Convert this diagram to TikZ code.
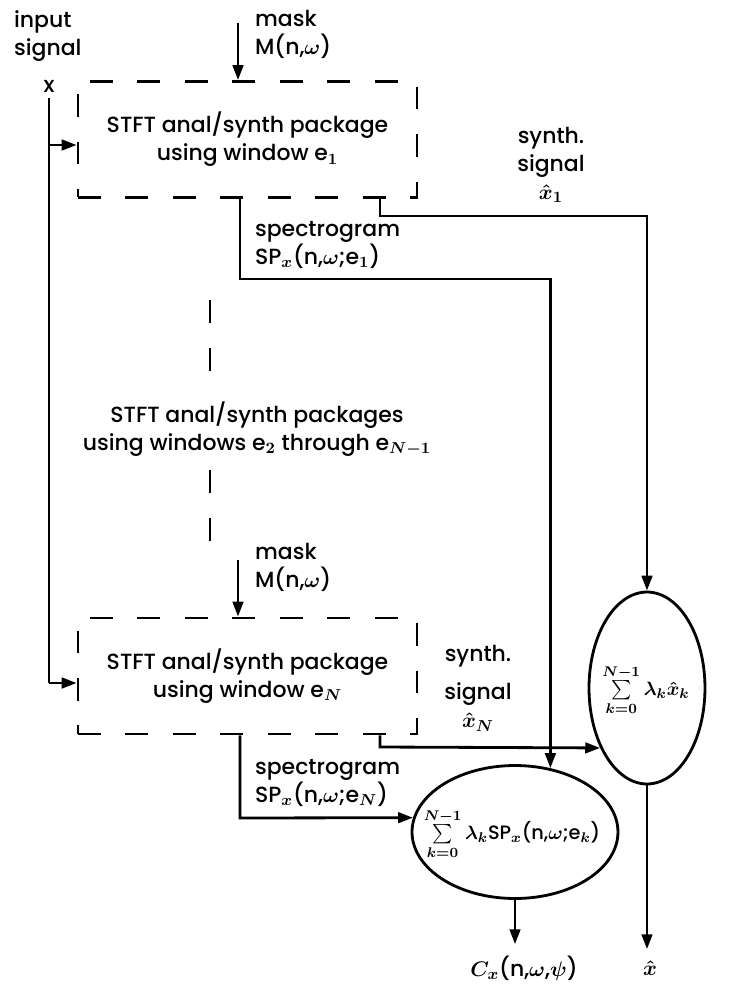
\documentclass[tikz,border=0pt]{standalone}
\usepackage{amsmath}
\usepackage{amssymb}
\usepackage{fontspec}
\setmainfont{Poppins}[UprightFont=* Medium]
\usetikzlibrary{arrows.meta,shapes.geometric}

\tikzset{
  wire/.style={line width=1.6pt},
  conn/.style={wire, -{Triangle[length=8.5pt,width=6pt]}},
  pkg/.style={draw, line width=1.6pt, dash pattern=on 13pt off 14pt,
    minimum width=6.78cm, minimum height=2.32cm, align=center, inner sep=0pt},
  middash/.style={wire, dash pattern=on 13pt off 14.5pt},
  sumnode/.style={draw, ellipse, line width=1.6pt, inner sep=0pt},
  sumtxt/.style={font=\fontsize{11}{13}\selectfont\boldmath},
  lbl/.style={align=left, inner sep=1pt}
}

\begin{document}
\begin{tikzpicture}[x=0.02cm, y=-0.02cm, font=\fontsize{12.5}{16}\selectfont\boldmath]
\useasboundingbox (0,0) rectangle (734,985);

% input signal
\node[lbl, anchor=west] (inp) at (12,36) {input\\signal};
\node (xin) at (49,86) {x};

% first package
\node[pkg] (box1) at (247.5,139.5) {STFT anal/synth package\\using window e$_1$};
\node[lbl, anchor=west] (mask1) at (253,34) {mask\\M(n,$\omega$)};
\coordinate (m1) at (238,23);
\draw[conn] (m1) -- (m1 |- box1.north);

% packages 2 .. N-1
\node[align=center] (midtxt) at (257,429) {STFT anal/synth packages\\using windows e$_2$ through e$_{N-1}$};
\draw[middash] (210,300) -- (210,372);
\draw[middash] (210,470) -- (210,545);

% last package
\node[pkg] (box2) at (247.5,676) {STFT anal/synth package\\using window e$_N$};
\node[lbl, anchor=west] (mask2) at (253,567) {mask\\M(n,$\omega$)};
\coordinate (m2) at (238,560);
\draw[conn] (m2) -- (m2 |- box2.north);

% input lines
\coordinate (br1) at (49,145);
\coordinate (brN) at (49,683);
\draw[wire] (xin.south) -- (brN);
\draw[conn] (br1) -- (br1 -| box1.west);
\draw[conn] (brN) -- (brN -| box2.west);

% weighted sums
\node[sumnode, minimum width=2.32cm, minimum height=3.84cm] (sumx) at (647,688) {};
\node[sumtxt] (sumxtxt) at (646,690) {$\textstyle\sum\limits_{k=0}^{N-1}\lambda_k\hat{x}_k$};
\node[sumnode, minimum width=4.12cm, minimum height=2.66cm] (sumsp) at (515,832) {};
\node[sumtxt] (sumsptxt) at (512,834) {$\textstyle\sum\limits_{k=0}^{N-1}\lambda_k$SP$_x$(n,$\omega$;e$_k$)};

% spectrograms
\node[lbl, anchor=west] (spec1) at (253,245) {spectrogram\\SP$_x$(n,$\omega$;e$_1$)};
\coordinate (sp1) at (240,279);
\draw[conn] (box1.south -| sp1) -- (sp1) -- (sp1 -| sumsp.61) -- (sumsp.61);
\node[lbl, anchor=west] (specN) at (253,783) {spectrogram\\SP$_x$(n,$\omega$;e$_N$)};
\coordinate (spN) at (240,818);
\draw[conn] (box2.south -| spN) -- (spN) -- (sumsp.172);

% synthesized signals
\node[align=center] (syn1) at (551,165) {synth.\\signal\\$\hat{x}_1$};
\coordinate (sy1) at (380,216);
\draw[conn] (box1.south -| sy1) -- (sy1) -- (sy1 -| sumx.north) -- (sumx.north);
\node[align=center] (synN) at (478,688) {synth.\\[6pt]signal\\$\hat{x}_N$};
\coordinate (syN) at (380,747);
\draw[conn] (box2.south -| syN) -- (syN) -- (sumx.232);

% outputs
\node (cout) at (524,968) {$C_x$(n,$\omega$,$\psi$)};
\draw[conn, shorten >=3pt] (sumsp.south) -- (sumsp.south |- cout.north);
\node (xout) at (650,968) {$\hat{x}$};
\draw[conn, shorten >=3pt] (sumx.south) -- (sumx.south |- xout.north);

\end{tikzpicture}
\end{document}
